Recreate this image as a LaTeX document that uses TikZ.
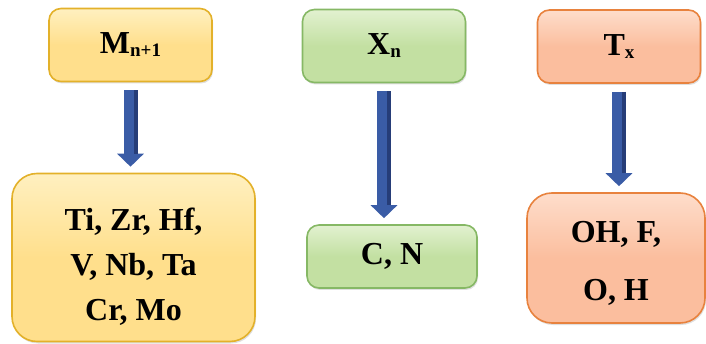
\documentclass[tikz,border=0pt]{standalone}
\usepackage{fontspec}
\setmainfont{Liberation Serif}[BoldFont={Liberation Serif Bold}]
\usetikzlibrary{arrows.meta,shadows}

\definecolor{goldfill}{HTML}{FFDF8C}
\definecolor{goldtop}{HTML}{FFF0C0}
\definecolor{goldline}{HTML}{E3B12A}
\definecolor{greenfill}{HTML}{C3E0A2}
\definecolor{greentop}{HTML}{E2F1D0}
\definecolor{greenline}{HTML}{86B865}
\definecolor{salmonfill}{HTML}{FBBE9E}
\definecolor{salmontop}{HTML}{FEDDCB}
\definecolor{salmonline}{HTML}{E8823E}
\definecolor{arrowblue}{HTML}{3A5CA6}
\definecolor{arrowdark}{HTML}{263D78}

% subscript set slightly below the baseline
\newcommand{\lowsub}[1]{\raisebox{-3pt}{\fontsize{19}{19}\selectfont #1}}
% stacked lines, moved down inside the box (box size kept)
\newcommand{\stack}[2]{\raisebox{#1}[\height][\depth]{\begin{tabular}{@{}c@{}}#2\end{tabular}}}

\tikzset{
  card/.style={rounded corners=12pt, line width=1.6pt, align=center,
    font=\fontsize{32}{45}\selectfont\bfseries,
    drop shadow={opacity=0.25, shadow xshift=1pt, shadow yshift=-2pt}},
  head/.style={card, minimum width=163pt, minimum height=73pt},
  gold/.style={draw=goldline, top color=goldtop, bottom color=goldfill, middle color=goldfill},
  green/.style={draw=greenline, top color=greentop, bottom color=greenfill, middle color=greenfill},
  salmon/.style={draw=salmonline, top color=salmontop, bottom color=salmonfill, middle color=salmonfill},
  downarrow/.style={draw=arrowblue, line width=14pt,
    -{Triangle[width=26pt,length=13pt]}, shorten <=8pt, shorten >=6pt},
  shade/.style={draw=arrowdark, line width=4pt, shorten <=8pt, shorten >=19pt}
}

\begin{document}
\begin{tikzpicture}[x=1pt, y=-1pt]
  \useasboundingbox (0,0) rectangle (706,344);

  % top row
  \node[head, gold]   (m) at (130.5,45) {M\lowsub{n+1}};
  \node[head, green]  (x) at (384,46)   {X\lowsub{n}};
  \node[head, salmon] (t) at (619,46.5) {T\lowsub{x}};

  % element boxes
  \node[card, gold, rounded corners=25pt, minimum width=243pt, minimum height=168pt]
    (ml) at (133.5,257.5) {\stack{-9pt}{Ti, Zr, Hf,\\V, Nb, Ta\\Cr, Mo}};
  \node[card, green, minimum width=170pt, minimum height=63pt]
    (xl) at (392,256.5) {C, N};
  \node[card, salmon, rounded corners=25pt, minimum width=178pt, minimum height=130pt,
    font=\fontsize{32}{58}\selectfont\bfseries]
    (tl) at (616,258) {\stack{-2pt}{OH, F,\\O, H}};

  % arrows, with a darker right edge on the shaft
  \foreach \a/\b in {m/ml, x/xl, t/tl} {
    \draw[downarrow] (\a.south) -- (\a.south |- \b.north);
    \draw[shade] ([xshift=5pt]\a.south) -- ([xshift=5pt]\a.south |- \b.north);
  }
\end{tikzpicture}
\end{document}
